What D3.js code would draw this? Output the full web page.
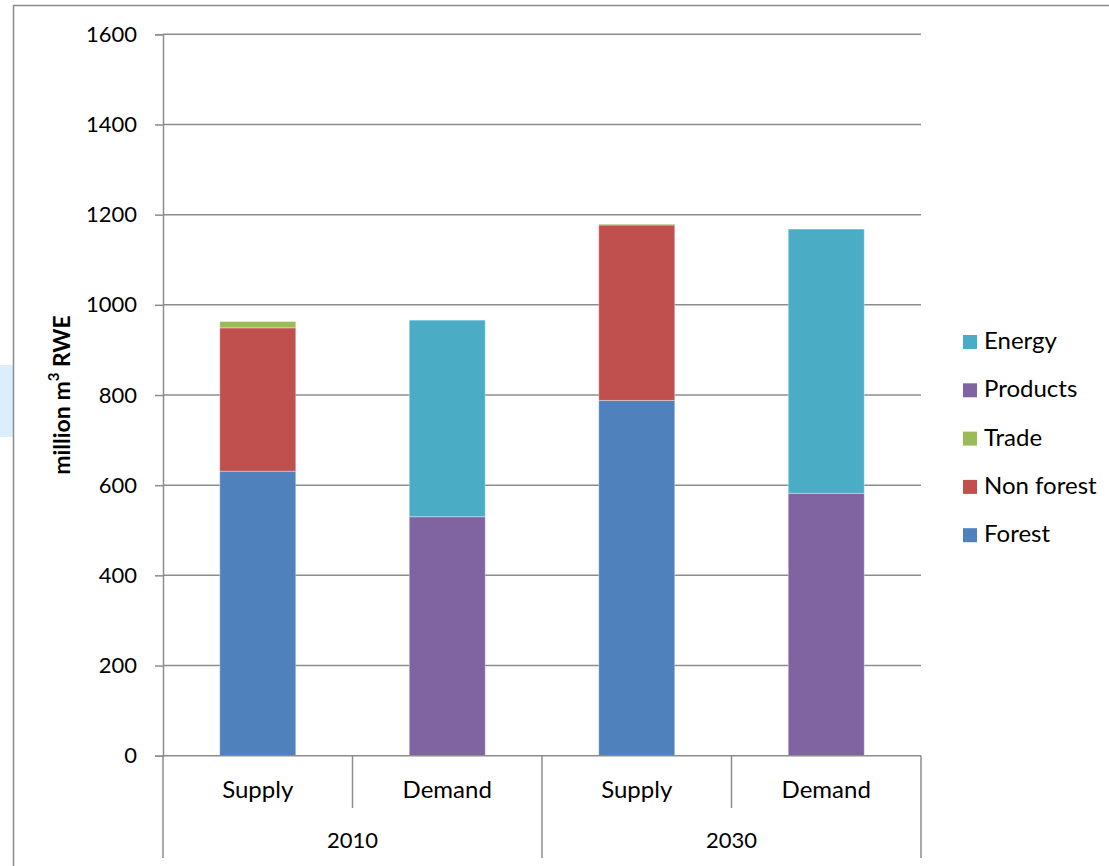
<!DOCTYPE html>
<html><head><meta charset="utf-8">
<script src="https://cdn.jsdelivr.net/npm/d3@7"></script>
<style>body{margin:0;background:#fff;} svg{display:block;} text{font-family:Lato,"Open Sans",sans-serif;fill:#000;}</style>
</head><body><svg id="c" width="1109" height="866"></svg>
<script>
const groups = ["2010","2010","2030","2030"];
const categories = ["Supply","Demand","Supply","Demand"];
const years = ["2010","2030"];
const seriesNames = ["Forest","Non forest","Trade","Products","Energy"];
const forest   = [631, 0, 788, 0];
const nonForest= [318, 0, 389, 0];
const trade    = [14, 0, 2, 0];
const products = [0, 530, 0, 582];
const energy   = [0, 436, 0, 586];
const yTicks = [0,200,400,600,800,1000,1200,1400,1600];
const colors = ["#4F81BD","#C0504D","#9BBB59","#8064A2","#4BACC6"];

const svg = d3.select("#c");
const L=163, R=921, T=34.3, B=755.7;
const rows = categories.map((c,i)=>({idx:i, Forest:forest[i], "Non forest":nonForest[i], Trade:trade[i], Products:products[i], Energy:energy[i]}));
const x = d3.scaleBand().domain(d3.range(categories.length)).range([L,R]).paddingInner(0).paddingOuter(0);
const y = d3.scaleLinear().domain([0,1600]).range([B,T]);
const color = d3.scaleOrdinal().domain(seriesNames).range(colors);

// left light blue patch and outer frame
svg.append("rect").attr("x",0).attr("y",365).attr("width",13).attr("height",72).attr("fill","#dbeefb");
svg.append("path").attr("d","M13.5,866 V5.5 H1109").attr("fill","none").attr("stroke","#8c8c8c").attr("stroke-width",1.5);

// gridlines
svg.append("g").selectAll("line").data(yTicks.filter(d=>d>0)).join("line")
  .attr("x1",L).attr("x2",R).attr("y1",d=>y(d)).attr("y2",d=>y(d))
  .attr("stroke","#8c8c8c").attr("stroke-width",1.5);

// y axis
const ya = svg.append("g").attr("transform",`translate(${L},0)`)
  .call(d3.axisLeft(y).tickValues(yTicks).tickSize(8).tickPadding(18).tickFormat(d3.format("d")));
ya.select(".domain").attr("stroke","#8c8c8c").attr("stroke-width",1.5);
ya.selectAll(".tick line").attr("stroke","#8c8c8c").attr("stroke-width",1.5);
ya.selectAll("text").attr("font-size",22).attr("font-family","Lato").attr("fill","#000");

// bars
const stack = d3.stack().keys(seriesNames)(rows);
const bw = 76;
svg.append("g").selectAll("g").data(stack).join("g").attr("fill",d=>color(d.key))
  .selectAll("rect").data(d=>d.filter(s=>s[1]-s[0]>0)).join("rect")
  .attr("x",d=>x(d.data.idx)+x.bandwidth()/2-bw/2).attr("width",bw)
  .attr("y",d=>y(d[1])).attr("height",d=>y(d[0])-y(d[1]))
  .attr("stroke","rgba(255,255,255,0.35)").attr("stroke-width",1);

// x axis baseline
svg.append("line").attr("x1",L).attr("x2",R).attr("y1",B).attr("y2",B).attr("stroke","#8c8c8c").attr("stroke-width",1.5);

// category dividers
const divs = d3.range(categories.length+1);
svg.append("g").selectAll("line").data(divs).join("line")
  .attr("x1",i=>i<categories.length?x(i):R).attr("x2",i=>i<categories.length?x(i):R)
  .attr("y1",B).attr("y2",i=>(i%2===0)?858:808)
  .attr("stroke","#8c8c8c").attr("stroke-width",1.5);

svg.append("g").selectAll("text").data(categories).join("text")
  .attr("x",(d,i)=>x(i)+x.bandwidth()/2).attr("y",792).attr("text-anchor","middle")
  .attr("dominant-baseline","middle").attr("font-size",24).text(d=>d);

svg.append("g").selectAll("text").data(years).join("text")
  .attr("x",(d,i)=>x(i*2)+x.bandwidth()).attr("y",842).attr("text-anchor","middle")
  .attr("dominant-baseline","middle").attr("font-size",22).text(d=>d);

// y title
svg.append("text").attr("transform","translate(64,395) rotate(-90)")
  .attr("text-anchor","middle").attr("dominant-baseline","middle")
  .attr("font-size",23).attr("font-weight","bold")
  .html('million m<tspan baseline-shift="super" font-size="15">3</tspan> RWE');

// legend
const leg = svg.append("g").selectAll("g").data(seriesNames.slice().reverse()).join("g")
  .attr("transform",(d,i)=>`translate(963,${342+i*48.3})`);
leg.append("rect").attr("x",0).attr("y",-7).attr("width",14).attr("height",14).attr("fill",d=>color(d));
leg.append("text").attr("x",21).attr("y",1).attr("dominant-baseline","middle").attr("font-size",24).text(d=>d);
</script></body></html>
